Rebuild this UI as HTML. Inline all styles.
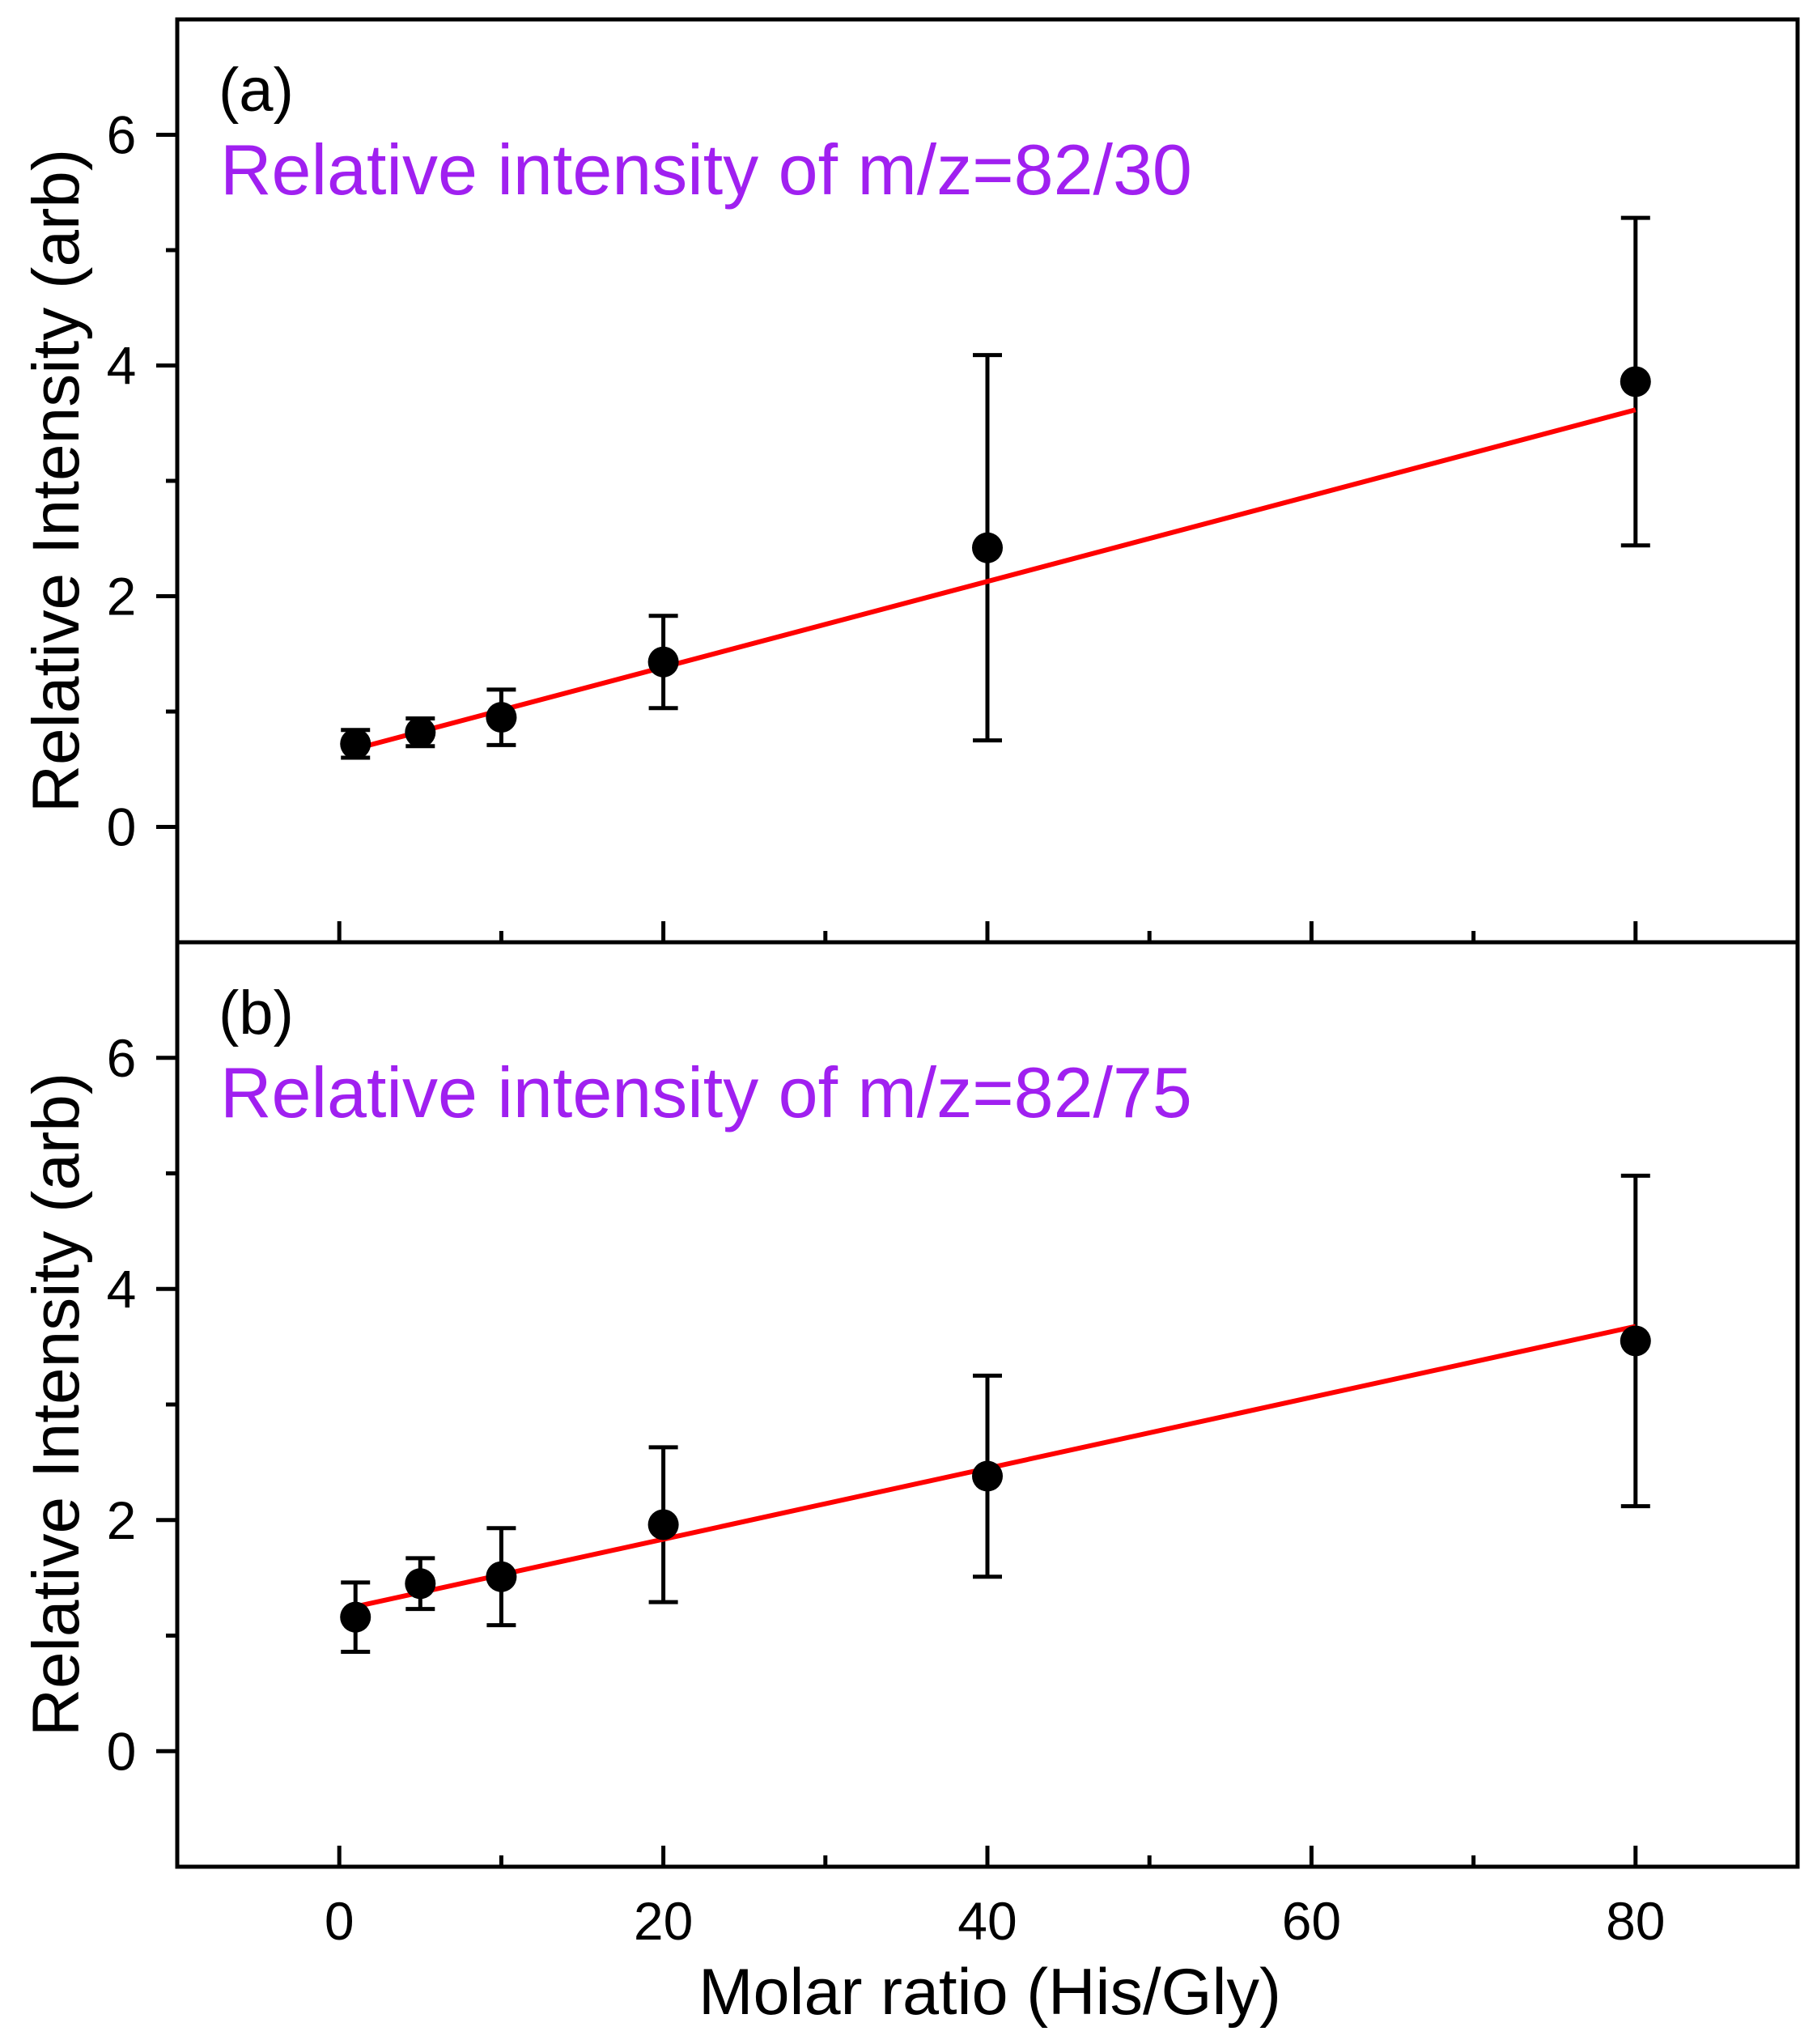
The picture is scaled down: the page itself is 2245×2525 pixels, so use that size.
<!DOCTYPE html>
<html><head><meta charset="utf-8"><style>
html,body{margin:0;padding:0;background:#fff;}
svg{display:block;font-family:"Liberation Sans",Arial,sans-serif;}
</style></head><body>
<svg id="chart" width="2245" height="2525" viewBox="0 0 2245 2525" xmlns="http://www.w3.org/2000/svg"></svg>
<script>
const xValues = [1, 5, 10, 20, 40, 80];
const seriesA = [0.72, 0.82, 0.95, 1.43, 2.42, 3.86];
const errA = [0.12, 0.12, 0.24, 0.40, 1.67, 1.42];
const fitA = [0.64, 0.0372];
const seriesB = [1.16, 1.45, 1.51, 1.96, 2.38, 3.55];
const errB = [0.30, 0.22, 0.42, 0.67, 0.87, 1.43];
const fitB = [1.22, 0.0307];
const yTicks = [0, 2, 4, 6];
const yMinor = [1, 3, 5];
const xTicks = [0, 20, 40, 60, 80];
const xMinor = [10, 30, 50, 70];
const panelLabels = ["(a)", "(b)"];
const panelTitles = ["Relative intensity of m/z=82/30", "Relative intensity of m/z=82/75"];

const NS = "http://www.w3.org/2000/svg";
const svg = document.getElementById("chart");
const L = 219, R = 2221;
const xMin = -10, xMax = 90;
const X = v => L + (v - xMin) / (xMax - xMin) * (R - L);
function mk(tag, attrs, parent) {
  const e = document.createElementNS(NS, tag);
  for (const k in attrs) e.setAttribute(k, attrs[k]);
  (parent || svg).appendChild(e);
  return e;
}
const panels = [
  {top: 24, bot: 1164, data: seriesA, err: errA, fit: fitA},
  {top: 1164, bot: 2306, data: seriesB, err: errB, fit: fitB}
];
panels.forEach((p, i) => {
  const g = mk("g", {});
  
  
  const Y = v => p.bot - (v + 1) / 8 * (p.bot - p.top);
  const fr = mk("rect", {x: L, y: p.top, width: R - L, height: p.bot - p.top, fill: "none", stroke: "#000", "stroke-width": 5}, g);
  
  
  yTicks.forEach(t => {
    const tk = mk("line", {x1: L - 26, x2: L, y1: Y(t), y2: Y(t), stroke: "#000", "stroke-width": 5}, g);
    
    
    const tl = mk("text", {x: 150, y: Y(t) + 23, "font-size": 66, "text-anchor": "middle"}, g);
    tl.textContent = t;
    
    
  });
  yMinor.forEach(t => {
    const tk = mk("line", {x1: L - 14, x2: L, y1: Y(t), y2: Y(t), stroke: "#000", "stroke-width": 5}, g);
    
    
  });
  xTicks.forEach(t => {
    const tk = mk("line", {x1: X(t), x2: X(t), y1: p.bot, y2: p.bot - 26, stroke: "#000", "stroke-width": 5}, g);
    
    
  });
  xMinor.forEach(t => {
    const tk = mk("line", {x1: X(t), x2: X(t), y1: p.bot, y2: p.bot - 14, stroke: "#000", "stroke-width": 5}, g);
    
    
  });
  const yt = mk("text", {x: 0, y: 0, "font-size": 82, "text-anchor": "middle", transform: `translate(97,${Y(3)}) rotate(-90)`}, g);
  yt.textContent = "Relative Intensity (arb)";
  
  
  const pl = mk("text", {x: 270, y: p.top + 113, "font-size": 76}, g);
  pl.textContent = panelLabels[i];
  
  
  const pt = mk("text", {x: 272, y: p.top + 216, "font-size": 88, fill: "#a020f0"}, g);
  pt.textContent = panelTitles[i];
  
  
  xValues.forEach((xv, j) => {
    const cx = X(xv), hi = Y(p.data[j] + p.err[j]), lo = Y(p.data[j] - p.err[j]);
    const eb = mk("path", {d: `M${cx},${hi}V${lo}M${cx-18},${hi}H${cx+18}M${cx-18},${lo}H${cx+18}`, stroke: "#000", "stroke-width": 5, fill: "none"}, g);
    
    
  });
  const fx1 = xValues[0], fx2 = xValues[xValues.length - 1];
  const fl = mk("line", {x1: X(fx1), y1: Y(p.fit[0] + p.fit[1] * fx1), x2: X(fx2), y2: Y(p.fit[0] + p.fit[1] * fx2), stroke: "#ff0000", "stroke-width": 6}, g);
  
  
  xValues.forEach((xv, j) => {
    const c = mk("circle", {cx: X(xv), cy: Y(p.data[j]), r: 19, fill: "#000"}, g);
    
    
  });
});
xTicks.forEach(t => {
  const tl = mk("text", {x: X(t), y: 2396, "font-size": 66, "text-anchor": "middle"});
  tl.textContent = t;
  
  
});
const xt = mk("text", {x: 1223, y: 2488, "font-size": 81, "text-anchor": "middle"});
xt.textContent = "Molar ratio (His/Gly)";


</script>
</body></html>
